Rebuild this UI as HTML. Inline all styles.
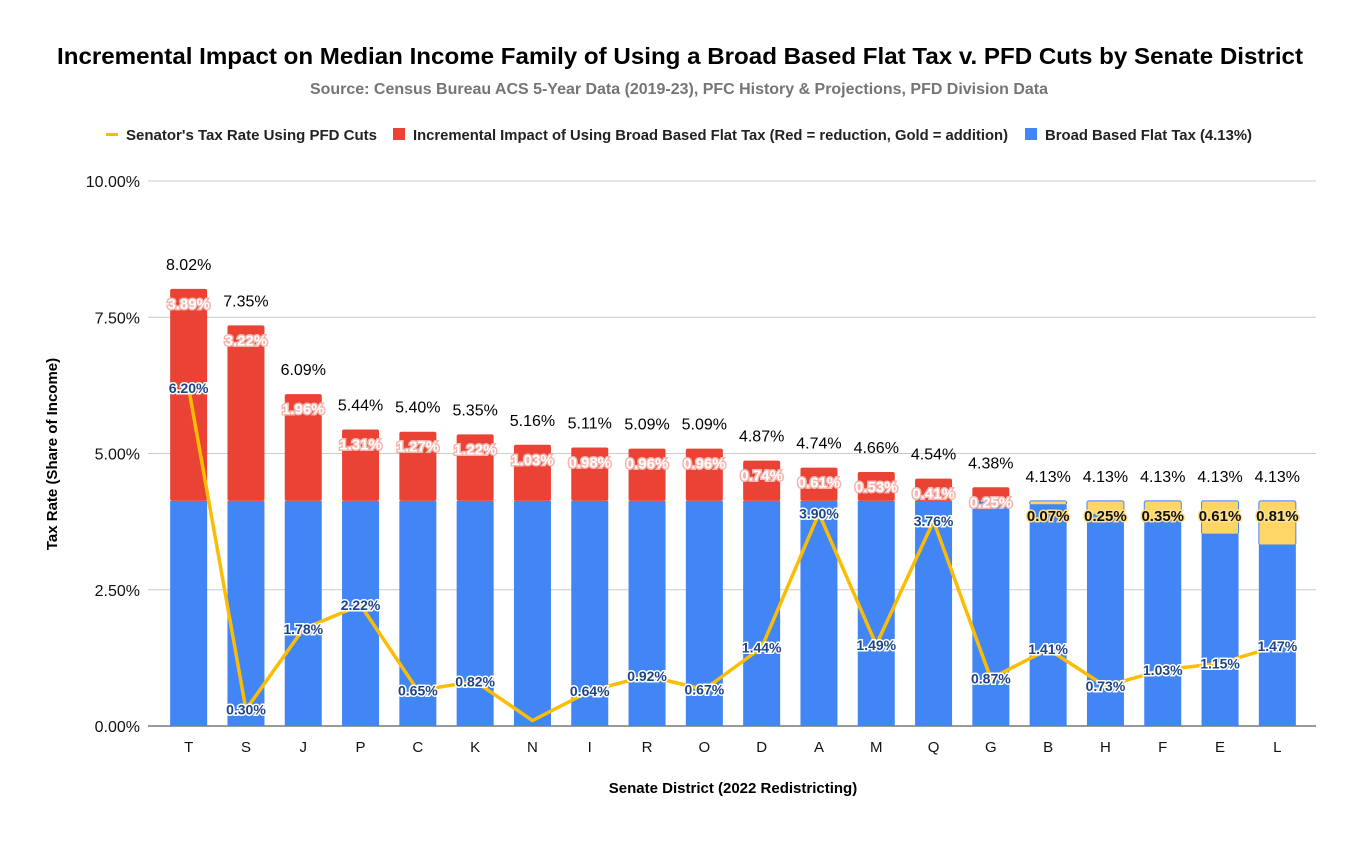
<!DOCTYPE html>
<html><head><meta charset="utf-8"><style>
body{margin:0;background:#fff;font-family:"Liberation Sans",Arial,sans-serif}
svg text{font-family:"Liberation Sans",Arial,sans-serif}
</style></head><body>
<svg id="chart" width="1358" height="839" xmlns="http://www.w3.org/2000/svg">
<text x="57" y="64" textLength="1246" lengthAdjust="spacingAndGlyphs" font-size="23" font-weight="bold" fill="#000">Incremental Impact on Median Income Family of Using a Broad Based Flat Tax v. PFD Cuts by Senate District</text>
<text x="310" y="94" textLength="738" lengthAdjust="spacingAndGlyphs" font-size="16" font-weight="bold" fill="#757575">Source: Census Bureau ACS 5-Year Data (2019-23), PFC History &amp; Projections, PFD Division Data</text>
<g font-size="14.5" font-weight="bold" fill="#222">
<g><rect x="106" y="133" width="12" height="3" fill="#fbbc04"/><text x="126" y="140" textLength="251" lengthAdjust="spacingAndGlyphs">Senator's Tax Rate Using PFD Cuts</text></g>
<g><rect x="393" y="128" width="12" height="12" fill="#ea4335"/><text x="413" y="140" textLength="595" lengthAdjust="spacingAndGlyphs">Incremental Impact of Using Broad Based Flat Tax (Red = reduction, Gold = addition)</text></g>
<g><rect x="1025" y="128" width="12" height="12" fill="#4285f4"/><text x="1045" y="140" textLength="207" lengthAdjust="spacingAndGlyphs">Broad Based Flat Tax (4.13%)</text></g>
</g>
<g id="grid"></g><g id="bars"></g><g id="line"></g><g id="labels"></g>
<text transform="translate(57,454) rotate(-90)" text-anchor="middle" font-size="15" font-weight="bold">Tax Rate (Share of Income)</text>
<text x="733" y="793" text-anchor="middle" font-size="15" font-weight="bold">Senate District (2022 Redistricting)</text>
</svg>
<script>
const categories=["T","S","J","P","C","K","N","I","R","O","D","A","M","Q","G","B","H","F","E","L"];
const flatTax=[4.13,4.13,4.13,4.13,4.13,4.13,4.13,4.13,4.13,4.13,4.13,4.13,4.13,4.13,4.13,4.13,4.13,4.13,4.13,4.13];
const incremental=[3.89,3.22,1.96,1.31,1.27,1.22,1.03,0.98,0.96,0.96,0.74,0.61,0.53,0.41,0.25,-0.07,-0.25,-0.35,-0.61,-0.81];
const senatorRate=[6.20,0.30,1.78,2.22,0.65,0.82,0.10,0.64,0.92,0.67,1.44,3.90,1.49,3.76,0.87,1.41,0.73,1.03,1.15,1.47];
const totalLabels=["8.02%","7.35%","6.09%","5.44%","5.40%","5.35%","5.16%","5.11%","5.09%","5.09%","4.87%","4.74%","4.66%","4.54%","4.38%","4.13%","4.13%","4.13%","4.13%","4.13%"];
const lineLabelShown=[1,1,1,1,1,1,0,1,1,1,1,1,1,1,1,1,1,1,1,1];
const yTicks=[0,2.5,5,7.5,10];
const NS="http://www.w3.org/2000/svg";
const x0=160,band=57.3,bw=37,yBase=726,yTop=181;
const X=i=>x0+band*(i+0.5);
const Y=v=>yBase-(v/10)*(yBase-yTop);
function mk(p,tag,a){const e=document.createElementNS(NS,tag);for(const k in a)e.setAttribute(k,a[k]);p.appendChild(e);return e;}
const g=document.getElementById('grid'),b=document.getElementById('bars'),l=document.getElementById('line'),lb=document.getElementById('labels');
yTicks.forEach(t=>{
 const ln=mk(g,'line',{x1:148,x2:1316,y1:Y(t),y2:Y(t),stroke:t==0?'#333':'#ccc','stroke-width':1});
 
 
 const tx=mk(g,'text',{x:140,y:Y(t)+6,'text-anchor':'end','font-size':16,fill:'#111'});
 tx.textContent=t.toFixed(2)+'%';
 
 
});
categories.forEach((c,i)=>{
 const cx=X(i),inc=incremental[i],ft=flatTax[i];
 const blueTop=inc>=0?ft:ft+inc;
 const r=mk(b,'rect',{x:cx-bw/2,y:Y(blueTop),width:bw,height:Y(0)-Y(blueTop),fill:'#4285f4'});
 
 
 let segTop,segBot,fill,stroke='none';
 if(inc>=0){segBot=ft;segTop=ft+inc;fill='#ea4335';}else{segBot=ft+inc;segTop=ft;fill='#ffd666';stroke='#4285f4';}
 const s=mk(b,'rect',{x:cx-bw/2,y:Y(segTop),width:bw,height:Y(segBot)-Y(segTop),fill:fill,stroke:stroke,'stroke-width':1,rx:2});
 
 
 const xt=mk(b,'text',{x:cx,y:752,'text-anchor':'middle','font-size':15,fill:'#111'});
 xt.textContent=c;
 
 
 const tot=mk(lb,'text',{x:cx,y:Y(Math.max(segTop,ft))-19,'text-anchor':'middle','font-size':16,fill:'#000'});
 tot.textContent=totalLabels[i];
 
 
 const il=mk(lb,'text',{x:cx,y:Y(segTop)+20,'text-anchor':'middle','font-size':15,'font-weight':'bold',
  fill:inc>=0?'#fff':'#111',stroke:inc>=0?'#f6b5ae':'#ffe08a','stroke-width':3,'paint-order':'stroke'});
 il.textContent=Math.abs(inc).toFixed(2)+'%';
 
 
});
const pts=senatorRate.map((v,i)=>X(i)+','+Y(v)).join(' ');
const pl=mk(l,'polyline',{points:pts,fill:'none',stroke:'#fbbc04','stroke-width':3.5,'stroke-linejoin':'round'});


senatorRate.forEach((v,i)=>{
 if(!lineLabelShown[i])return;
 const t=mk(lb,'text',{x:X(i),y:Y(v)+5,'text-anchor':'middle','font-size':14,'font-weight':'bold',fill:'#1c4587',stroke:'#fff','stroke-width':3,'paint-order':'stroke'});
 t.textContent=v.toFixed(2)+'%';
 
 
});
</script>
</body></html>
